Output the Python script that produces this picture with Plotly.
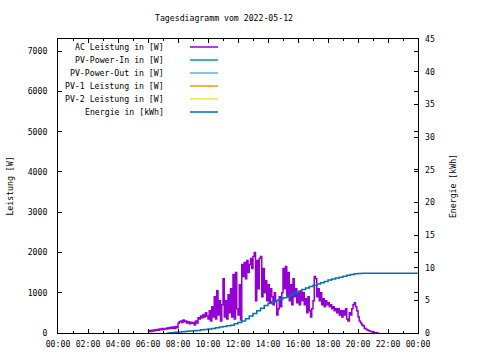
import plotly.graph_objects as go

DAY = "2022-05-12"
TITLE = "Tagesdiagramm vom 2022-05-12"

# AC Leistung [W], 5-minute samples
ac_times = [
    "06:00","06:05","06:10","06:15","06:20","06:25","06:30","06:35","06:40","06:45","06:50","06:55",
    "07:00","07:05","07:10","07:15","07:20","07:25","07:30","07:35","07:40","07:45","07:50","07:55",
    "08:00","08:05","08:10","08:15","08:20","08:25","08:30","08:35","08:40","08:45","08:50","08:55",
    "09:00","09:05","09:10","09:15","09:20","09:25","09:30","09:35","09:40","09:45","09:50","09:55",
    "10:00","10:05","10:10","10:15","10:20","10:25","10:30","10:35","10:40","10:45","10:50","10:55",
    "11:00","11:05","11:10","11:15","11:20","11:25","11:30","11:35","11:40","11:45","11:50","11:55",
    "12:00","12:05","12:10","12:15","12:20","12:25","12:30","12:35","12:40","12:45","12:50","12:55",
    "13:00","13:05","13:10","13:15","13:20","13:25","13:30","13:35","13:40","13:45","13:50","13:55",
    "14:00","14:05","14:10","14:15","14:20","14:25","14:30","14:35","14:40","14:45","14:50","14:55",
    "15:00","15:05","15:10","15:15","15:20","15:25","15:30","15:35","15:40","15:45","15:50","15:55",
    "16:00","16:05","16:10","16:15","16:20","16:25","16:30","16:35","16:40","16:45","16:50","16:55",
    "17:00","17:05","17:10","17:15","17:20","17:25","17:30","17:35","17:40","17:45","17:50","17:55",
    "18:00","18:05","18:10","18:15","18:20","18:25","18:30","18:35","18:40","18:45","18:50","18:55",
    "19:00","19:05","19:10","19:15","19:20","19:25","19:30","19:35","19:40","19:45","19:50","19:55",
    "20:00","20:05","20:10","20:15","20:20","20:25","20:30","20:35","20:40","20:45","20:50","20:55",
    "21:00","21:05","21:10","21:15","21:20",
]
ac_power = [
    30,60,40,70,50,80,60,90,70,100,80,110,
    90,100,120,100,130,110,140,120,150,110,160,130,
    240,280,300,260,320,280,300,250,280,230,270,240,
    260,200,300,250,380,350,420,380,460,400,500,420,
    350,550,300,650,400,900,350,1050,450,800,300,700,
    1350,400,800,350,950,500,1100,400,1450,350,1500,600,
    450,1200,320,1700,1400,1750,1350,1800,1500,1700,1850,1600,
    1900,2000,800,1800,1100,1850,1900,900,1600,1000,1300,800,
    1200,750,1100,900,700,1000,800,450,600,900,650,1000,
    1600,1100,1650,900,1500,800,1200,700,1350,900,1100,750,
    1000,700,1050,800,1000,700,850,500,900,550,400,600,
    800,1400,1350,900,1100,800,1000,700,850,650,800,700,
    750,650,700,600,650,550,600,500,600,450,550,400,
    550,450,600,350,300,500,450,600,700,750,650,550,
    400,300,250,200,180,120,100,80,60,50,40,30,
    20,15,10,5,0,
]

# Energie [kWh], quarter-hour samples
energy_times = [
    "07:15","07:30","07:45","08:00","08:15","08:30","08:45","09:00","09:15","09:30","09:45",
    "10:00","10:15","10:30","10:45","11:00","11:15","11:30","11:45","12:00","12:15","12:30","12:45",
    "13:00","13:15","13:30","13:45","14:00","14:15","14:30","14:45","15:00","15:15","15:30","15:45",
    "16:00","16:15","16:30","16:45","17:00","17:15","17:30","17:45","18:00","18:15","18:30","18:45",
    "19:00","19:15","19:30","19:45","20:00","20:15","20:30","23:59",
]
energy = [
    0.0,0.05,0.1,0.15,0.2,0.25,0.3,0.35,0.4,0.5,0.55,
    0.6,0.7,0.8,0.9,1.0,1.1,1.2,1.4,1.6,1.85,2.2,2.6,
    3.0,3.4,3.8,4.2,4.5,4.8,5.0,5.2,5.4,5.65,5.9,6.15,
    6.4,6.65,6.9,7.1,7.3,7.5,7.7,7.9,8.1,8.25,8.4,8.55,
    8.7,8.85,8.95,9.05,9.1,9.15,9.15,9.15,
]

series_names = [
    "AC Leistung in [W]", "PV-Power-In in [W]", "PV-Power-Out in [W]",
    "PV-1 Leistung in [W]", "PV-2 Leistung in [W]", "Energie in [kWh]",
]
series_colors = ["#9400d3", "#009e73", "#56b4e9", "#e69f00", "#f0e442", "#0072b2"]

x_ticks = ["00:00","02:00","04:00","06:00","08:00","10:00","12:00","14:00","16:00","18:00","20:00","22:00","00:00"]

FONT = "DejaVu Sans Mono"
FS = 8.2

fig = go.Figure()
fig.add_trace(go.Scatter(x=[f"{DAY} {t}" for t in ac_times], y=ac_power, mode="lines",
                         line=dict(color=series_colors[0], width=1.5, shape="hv"),
                         name=series_names[0], showlegend=False))
for i in range(1, 5):
    fig.add_trace(go.Scatter(x=[], y=[], mode="lines", line=dict(color=series_colors[i], width=1.5),
                             name=series_names[i], showlegend=False))
fig.add_trace(go.Scatter(x=[f"{DAY} {t}" for t in energy_times], y=energy, mode="lines", yaxis="y2",
                         line=dict(color=series_colors[5], width=1.5, shape="hv"),
                         name=series_names[5], showlegend=False))

# manual gnuplot-style legend: right-aligned text, sample line to the right
W, H = 480, 360
L, R, T, B = 58, 418, 39, 333
def px(x):
    return (x - L) / (R - L)
def py(y):
    return (B - y) / (B - T)

row_y = [47, 60, 73, 86, 99, 112]
for name, col, yy in zip(series_names, series_colors, row_y):
    fig.add_annotation(x=px(166), y=py(yy), xref="paper", yref="paper", text=name,
                       showarrow=False, xanchor="right", yanchor="middle",
                       font=dict(family=FONT, size=FS, color="black"))
    fig.add_shape(type="line", xref="paper", yref="paper", x0=px(190), x1=px(218),
                  y0=py(yy), y1=py(yy), line=dict(color=col, width=1.5))

fig.update_layout(
    width=W, height=H,
    margin=dict(l=L, r=W - R, t=T, b=H - B, autoexpand=False),
    plot_bgcolor="white", paper_bgcolor="white",
    font=dict(family=FONT, size=FS, color="black"),
    title=dict(text=TITLE, x=224 / W, xanchor="center", y=1 - 18 / H, yanchor="middle",
               font=dict(family=FONT, size=FS)),
    xaxis=dict(
        range=[f"{DAY} 00:00", "2022-05-13 00:00"],
        tickvals=[f"{DAY} {t}" if i < 12 else "2022-05-13 00:00" for i, t in enumerate(x_ticks)],
        ticktext=x_ticks, automargin=False,
        ticks="inside", ticklen=4, tickcolor="black", ticklabelstandoff=3,
        minor=dict(ticks="inside", ticklen=2, dtick=3600000, tickcolor="black"),
        showline=True, linecolor="black", linewidth=1, mirror="ticks",
        showgrid=False, zeroline=False,
    ),
    yaxis=dict(
        range=[0, 7300], tickvals=[0, 1000, 2000, 3000, 4000, 5000, 6000, 7000],
        ticks="inside", ticklen=4, tickcolor="black", ticklabelstandoff=8, automargin=False,
        showline=True, linecolor="black", linewidth=1, mirror="ticks",
        showgrid=False, zeroline=False,
        title=dict(text="Leistung [W]", standoff=12, font=dict(family=FONT, size=FS)),
    ),
    yaxis2=dict(
        range=[0, 45], tickvals=[0, 5, 10, 15, 20, 25, 30, 35, 40, 45],
        overlaying="y", side="right", automargin=False,
        ticks="inside", ticklen=4, tickcolor="black", ticklabelstandoff=6,
        showline=False, showgrid=False, zeroline=False,
        title=dict(text="Energie [kWh]", standoff=16, font=dict(family=FONT, size=FS)),
    ),
)

fig.write_html("out.html", config={"displayModeBar": False},
               post_script="document.body.style.margin='0';")
